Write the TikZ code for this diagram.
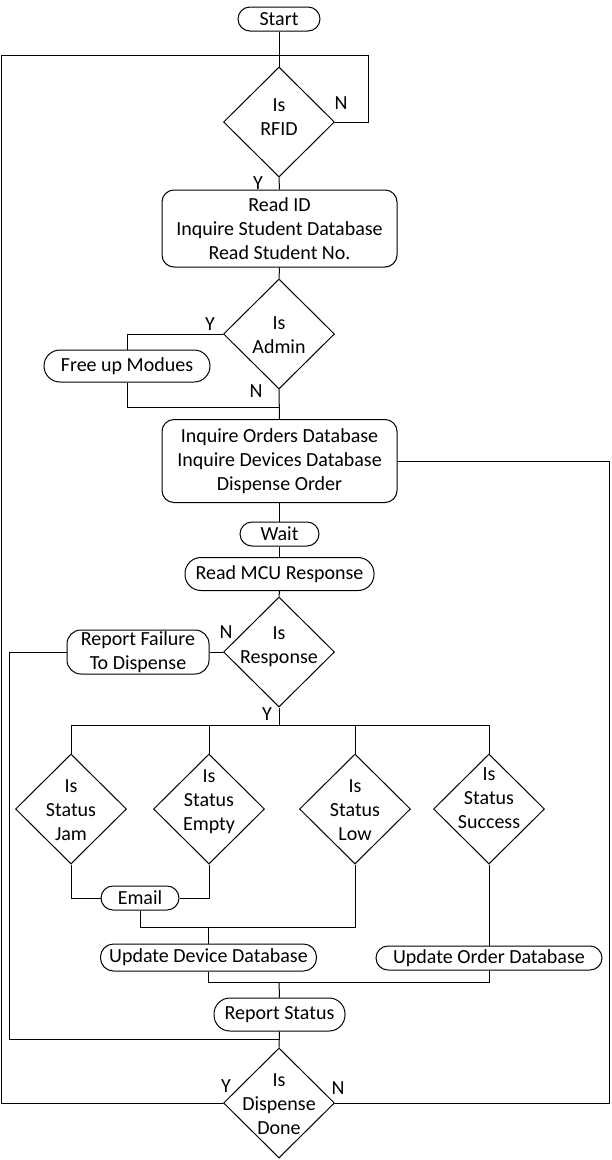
\documentclass[tikz,border=0pt]{standalone}
\usepackage{fontspec}
\setmainfont{Carlito}
\usetikzlibrary{shapes.geometric}
\begin{document}
\begin{tikzpicture}[x=1pt,y=-1pt,
  every node/.style={font=\fontsize{20pt}{24pt}\selectfont},
  dec/.style={diamond, draw, minimum width=111pt, minimum height=110pt, inner sep=0pt},
  txt/.style={align=center, inner sep=0pt},
  box/.style={draw, rounded corners=#1, align=center, inner sep=0pt},
  box/.default=12pt,
  yn/.style={inner sep=0pt},
  every path/.style={line width=1pt}]
\useasboundingbox (0,0) rectangle (611,1160);
% nodes
\node[box=12pt, minimum width=82pt, minimum height=24pt] (start) at (279,19) {Start};
\node[dec, label={[txt, yshift=5pt]center:{Is\\RFID}}] (rfid) at (279,122) {};
\node[box=12pt, minimum width=235pt, minimum height=77pt] (readid) at (279.5,228.5) {Read ID\\Inquire Student Database\\Read Student No.};
\node[dec, label={[txt, yshift=-1pt]center:{Is\\Admin}}] (admin) at (279,334) {};
\node[box=16pt, minimum width=166pt, minimum height=32pt] (freeup) at (127,366) {Free up Modues};
\node[box=12pt, minimum width=235pt, minimum height=83pt] (orders) at (279.5,461) {Inquire Orders Database\\Inquire Devices Database\\Dispense Order};
\node[box=12pt, minimum width=79pt, minimum height=24pt] (wait) at (279.5,534) {Wait};
\node[box=16pt, minimum width=189pt, minimum height=33pt] (mcu) at (279.5,574) {Read MCU Response};
\node[dec, label={[txt, yshift=5pt]center:{Is\\Response}}] (resp) at (279,652) {};
\node[box=14pt, minimum width=142pt, minimum height=44pt] (fail) at (138,652) {Report Failure\\To Dispense};
\node[dec, label={[txt, yshift=-1pt]center:{Is\\Status\\Jam}}] (jam) at (71,809) {};
\node[dec, label={[txt, yshift=7pt]center:{Is\\Status\\Empty}}] (empty) at (209,809) {};
\node[dec, label={[txt, yshift=-1pt]center:{Is\\Status\\Low}}] (low) at (355,809) {};
\node[dec, label={[txt, yshift=11pt]center:{Is\\Status\\Success}}] (succ) at (489,809) {};
\node[box=12pt, minimum width=78pt, minimum height=24pt] (email) at (140,898) {Email};
\node[box=13pt, minimum width=216pt, minimum height=27pt] (updev) at (208.5,957.5) {Update Device Database};
\node[box=12pt, minimum width=226pt, minimum height=24pt] (updord) at (489,958) {Update Order Database};
\node[box=16pt, minimum width=131pt, minimum height=33pt] (rstat) at (279.5,1014.5) {Report Status};
\node[dec, label={[txt, yshift=-1pt]center:{Is\\Dispense\\Done}}] (done) at (279,1103) {};
% Y/N labels
\node[yn] (l1) at (341,103) {N};
\node[yn] (l2) at (258,183) {Y};
\node[yn] (l3) at (210,324) {Y};
\node[yn] (l4) at (256,391) {N};
\node[yn] (l5) at (226,632) {N};
\node[yn] (l6) at (267,714) {Y};
\node[yn] (l7) at (226,1086) {Y};
\node[yn] (l8) at (338,1088) {N};
% coordinates
\coordinate (topj) at (279,55);
\coordinate (rfidR) at (368,55);
\coordinate (lft) at (1,55);
\coordinate (rgtB) at (609,1103);
\coordinate (adminJ) at (279,407);
\coordinate (failC) at (9,1039);
\coordinate (rsJ) at (279,1039);
\coordinate (br) at (279,725);
\coordinate (emJ) at (355,927);
\coordinate (j2) at (279,982);
% connectors
\draw (start) -- (rfid.north);
\draw (rfid.east) -| (rfidR) -- (topj);
\draw (done.west) -| (lft) -- (topj);
\draw (orders.east) -| (rgtB) -- (done.east);
\draw (rfid.south) -- (readid.north);
\draw (readid.south) -- (admin.north);
\draw (admin.west) -| (freeup.north);
\draw (freeup.south) |- (adminJ);
\draw (admin.south) -- (orders.north);
\draw (orders.south) -- (wait.north);
\draw (wait.south) -- (mcu.north);
\draw (mcu.south) -- (resp.north);
\draw (resp.west) -- (fail.east);
\draw (fail.west) -| (failC) -- (rsJ);
\draw (resp.south) -- (br);
\draw (jam.north) |- (br) -| (succ.north);
\draw (empty.north) -- (empty.north |- br);
\draw (low.north) -- (low.north |- br);
\draw (jam.south) |- (email.west);
\draw (empty.south) |- (email.east);
\draw (email.south) |- (emJ) -- (low.south);
\draw (updev.north) -- (updev.north |- emJ);
\draw (succ.south) -- (updord.north);
\draw (updev.south) |- (j2) -| (updord.south);
\draw (j2) -- (rstat.north);
\draw (rstat.south) -- (done.north);
\end{tikzpicture}
\end{document}
